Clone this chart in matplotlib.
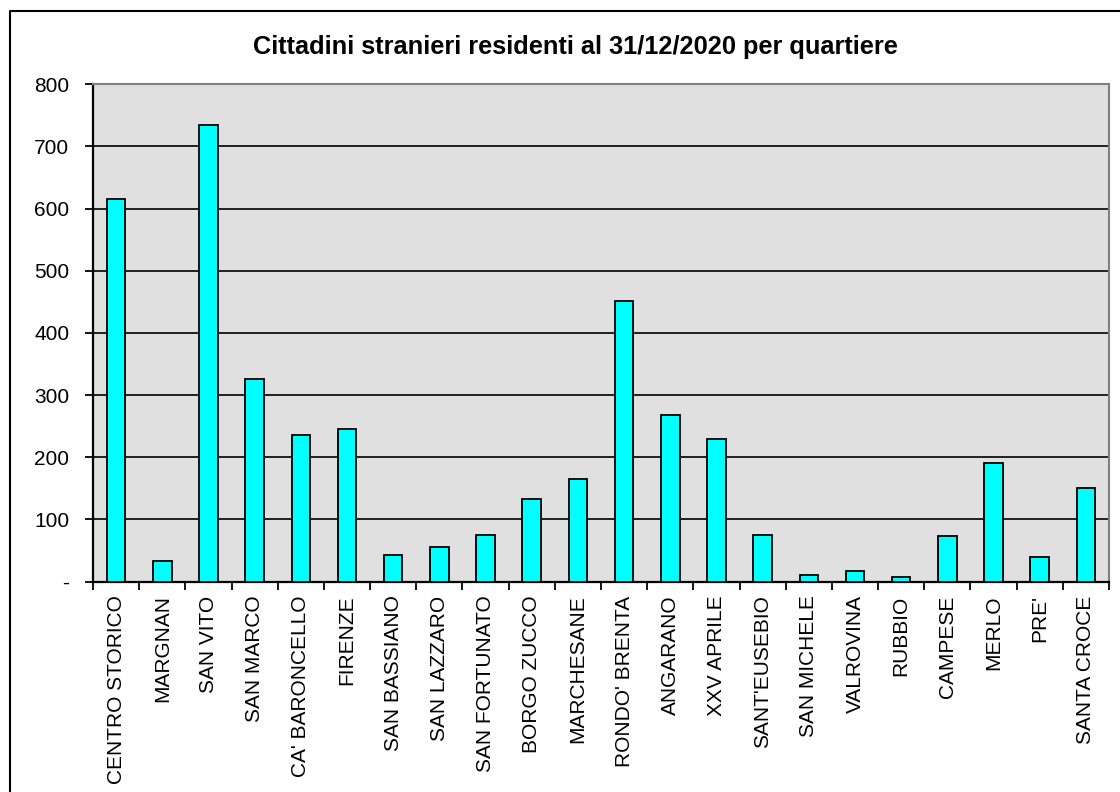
import matplotlib
matplotlib.use("Agg")
import matplotlib.pyplot as plt
from matplotlib.lines import Line2D
from matplotlib.ticker import FixedLocator, NullFormatter

plt.rcParams['font.family'] = ['Liberation Sans', 'DejaVu Sans']

categories = ["CENTRO STORICO", "MARGNAN", "SAN VITO", "SAN MARCO", "CA' BARONCELLO",
              "FIRENZE", "SAN BASSIANO", "SAN LAZZARO", "SAN FORTUNATO", "BORGO ZUCCO",
              "MARCHESANE", "RONDO' BRENTA", "ANGARANO", "XXV APRILE", "SANT'EUSEBIO",
              "SAN MICHELE", "VALROVINA", "RUBBIO", "CAMPESE", "MERLO", "PRE'", "SANTA CROCE"]
values = [616, 33, 735, 326, 236, 246, 43, 56, 75, 133, 165, 452, 268, 229, 75,
          11, 17, 8, 73, 191, 40, 150]
yticks = [0, 100, 200, 300, 400, 500, 600, 700, 800]
yticklabels = ["-", "100", "200", "300", "400", "500", "600", "700", "800"]
title = "Cittadini stranieri residenti al 31/12/2020 per quartiere"

fig = plt.figure(figsize=(11.2, 7.92), dpi=100)
ax = fig.add_axes([93/1120, 1 - 581.5/792, (1109-93)/1120, (581.5-84.3)/792])
ax.set_facecolor('#E0E0E0')

x = list(range(len(categories)))
ax.bar(x, values, width=0.4, color='#00FFFF', edgecolor='black', linewidth=1.3, zorder=3)

ax.set_xlim(-0.5, len(categories) - 0.5)
ax.set_ylim(0, 800)
ax.set_yticks(yticks)
ax.set_yticklabels(yticklabels, fontsize=15)
ax.yaxis.grid(True, color='black', linewidth=1.2, zorder=1)
ax.set_axisbelow(True)

ax.set_xticks(x)
ax.set_xticklabels(categories, rotation=90, fontsize=15)
ax.tick_params(axis='x', which='major', length=0, pad=10)
ax.xaxis.set_minor_locator(FixedLocator([i - 0.5 for i in range(len(categories) + 1)]))
ax.xaxis.set_minor_formatter(NullFormatter())
ax.tick_params(axis='x', which='minor', length=6, width=1.3, direction='out')
ax.tick_params(axis='y', length=6, width=1.3, direction='out', pad=11)

for side in ['top', 'right']:
    ax.spines[side].set_color('#808080')
    ax.spines[side].set_linewidth(1.5)
for side in ['left', 'bottom']:
    ax.spines[side].set_color('black')
    ax.spines[side].set_linewidth(1.6)

fig.text(575/1120, 1 - 47/792, title, ha='center', va='center', fontsize=18.3, fontweight='bold')

# outer chart border (left and top visible)
fig.lines.append(Line2D([9.5/1120, 9.5/1120, 1.0], [0.0, 1 - 10.5/792, 1 - 10.5/792],
                        transform=fig.transFigure, color='black', linewidth=1.5))

fig.savefig("out.png", dpi=100)
